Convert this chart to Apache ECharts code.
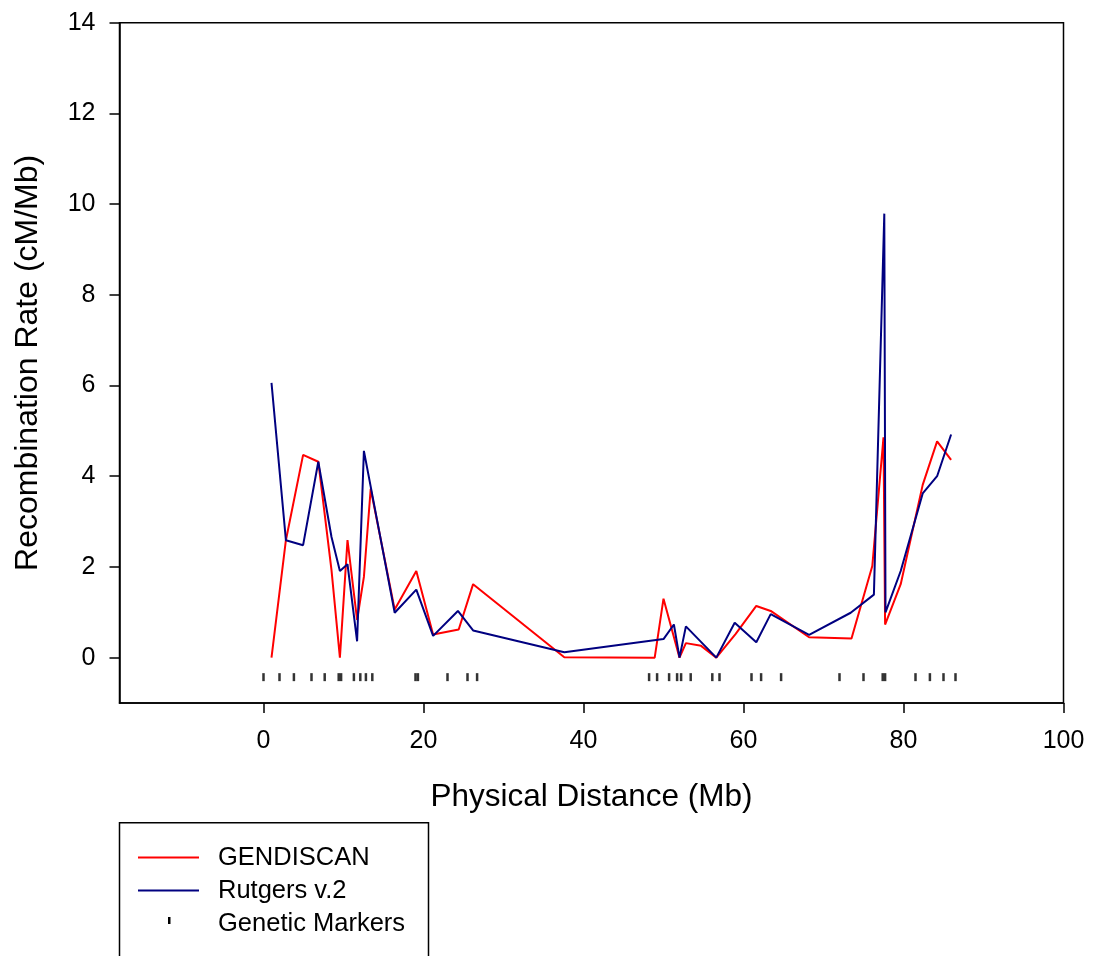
<!DOCTYPE html>
<html>
<head>
<meta charset="utf-8">
<script src="https://cdn.jsdelivr.net/npm/echarts@6/dist/echarts.min.js"></script>
<style>
html,body{margin:0;padding:0;background:#fff;}
#chart{width:1095px;height:956px;}
</style>
</head>
<body>
<div id="chart"></div>
<script>
// ---- data ----
var gendiscanX = [1.0, 2.8, 4.95, 6.85, 8.5, 9.55, 10.5, 11.7, 12.55, 13.4, 16.4, 19.1, 21.2, 24.4, 26.2, 37.6, 48.9, 50.0, 52.0, 52.8, 54.7, 56.6, 59.0, 61.6, 63.4, 68.2, 73.5, 76.1, 77.5, 77.7, 79.65, 82.4, 84.2, 85.95];
var gendiscanY = [0.0, 2.59, 4.47, 4.32, 1.93, 0.0, 2.59, 0.83, 1.78, 3.72, 1.06, 1.91, 0.51, 0.62, 1.62, 0.01, 0.0, 1.30, 0.0, 0.32, 0.26, 0.0, 0.52, 1.14, 1.03, 0.45, 0.42, 2.02, 4.86, 0.73, 1.62, 3.81, 4.77, 4.36];
var rutgersX = [1.0, 2.8, 4.95, 6.85, 8.5, 9.55, 10.5, 11.7, 12.55, 16.4, 19.1, 21.2, 24.3, 26.2, 37.6, 50.0, 51.3, 52.0, 52.8, 56.6, 58.9, 61.6, 63.4, 68.2, 73.4, 76.3, 77.6, 77.75, 79.65, 82.4, 84.2, 85.95];
var rutgersY = [6.06, 2.59, 2.48, 4.32, 2.66, 1.91, 2.06, 0.36, 4.56, 0.99, 1.50, 0.48, 1.03, 0.60, 0.12, 0.41, 0.73, 0.0, 0.69, 0.0, 0.77, 0.34, 0.96, 0.50, 0.99, 1.39, 9.79, 1.0, 1.91, 3.62, 4.0, 4.92];
var markerX = [0.0, 2.0, 3.8, 6.0, 7.65, 9.4, 9.7, 11.3, 12.1, 12.8, 13.6, 19.0, 19.3, 23.0, 25.5, 26.7, 48.2, 49.2, 50.7, 51.7, 52.2, 53.4, 56.1, 57.0, 61.0, 62.2, 64.7, 72.0, 75.0, 77.4, 77.7, 81.5, 83.3, 85.0, 86.5];
var markerY = -0.43;
var xTicks = [0, 20, 40, 60, 80, 100];
var yTicks = [0, 2, 4, 6, 8, 10, 12, 14];
var seriesNames = ['GENDISCAN', 'Rutgers v.2', 'Genetic Markers'];

function zip(xs, ys) { return xs.map(function (x, i) { return [x, ys[i]]; }); }

var FONT = '"Liberation Sans", Arial, sans-serif';
var chart = echarts.init(document.getElementById('chart'), null, {renderer: 'canvas'});

var option = {
  animation: false,
  backgroundColor: '#ffffff',
  grid: {
    left: 119.5, top: 22.7, right: 31.5, bottom: 253,
    show: true, borderColor: '#000', borderWidth: 1.5, backgroundColor: 'transparent'
  },
  xAxis: {
    type: 'value', min: -18, max: 100,
    name: 'Physical Distance (Mb)', nameLocation: 'middle', nameGap: 78,
    nameTextStyle: {fontFamily: FONT, fontSize: 31.5, color: '#000'},
    axisLine: {onZero: false, lineStyle: {color: '#000', width: 1.5}},
    axisTick: {show: true, length: 10, lineStyle: {color: '#000', width: 1.5}, customValues: xTicks},
    axisLabel: {fontFamily: FONT, fontSize: 25, color: '#000', margin: 26, customValues: xTicks},
    splitLine: {show: false}
  },
  yAxis: {
    type: 'value', min: -1, max: 14,
    name: 'Recombination Rate (cM/Mb)', nameLocation: 'middle', nameGap: 75,
    nameTextStyle: {fontFamily: FONT, fontSize: 32, color: '#000'},
    axisLine: {onZero: false, lineStyle: {color: '#000', width: 1.5}},
    axisTick: {show: true, length: 10, lineStyle: {color: '#000', width: 1.5}, customValues: yTicks},
    axisLabel: {fontFamily: FONT, fontSize: 25, color: '#000', margin: 24, customValues: yTicks},
    splitLine: {show: false}
  },
  series: [
    {
      name: seriesNames[0], type: 'line', data: zip(gendiscanX, gendiscanY),
      symbol: 'none', lineStyle: {color: '#ff0000', width: 2}, itemStyle: {color: '#ff0000'}, z: 2
    },
    {
      name: seriesNames[1], type: 'line', data: zip(rutgersX, rutgersY),
      symbol: 'none', lineStyle: {color: '#000080', width: 2}, itemStyle: {color: '#000080'}, z: 3
    },
    {
      name: seriesNames[2], type: 'scatter',
      data: markerX.map(function (x) { return [x, markerY]; }),
      symbol: 'rect', symbolSize: [2.5, 8], itemStyle: {color: '#000'}, z: 4
    }
  ],
  graphic: [
    {type: 'rect', shape: {x: 119.5, y: 822.7, width: 309, height: 160}, style: {fill: '#fff', stroke: '#000', lineWidth: 1.5}},
    {type: 'line', shape: {x1: 138, y1: 857.5, x2: 199, y2: 857.5}, style: {stroke: '#ff0000', lineWidth: 2}},
    {type: 'line', shape: {x1: 138, y1: 890.5, x2: 199, y2: 890.5}, style: {stroke: '#000080', lineWidth: 2}},
    {type: 'rect', shape: {x: 168, y: 917, width: 2.5, height: 7}, style: {fill: '#000'}},
    {type: 'text', x: 218, y: 858, style: {text: seriesNames[0], fontFamily: FONT, fontSize: 25.5, fill: '#000', verticalAlign: 'middle'}},
    {type: 'text', x: 218, y: 891, style: {text: seriesNames[1], fontFamily: FONT, fontSize: 25.5, fill: '#000', verticalAlign: 'middle'}},
    {type: 'text', x: 218, y: 924, style: {text: seriesNames[2], fontFamily: FONT, fontSize: 25.5, fill: '#000', verticalAlign: 'middle'}}
  ]
};
chart.setOption(option);
</script>
</body>
</html>
